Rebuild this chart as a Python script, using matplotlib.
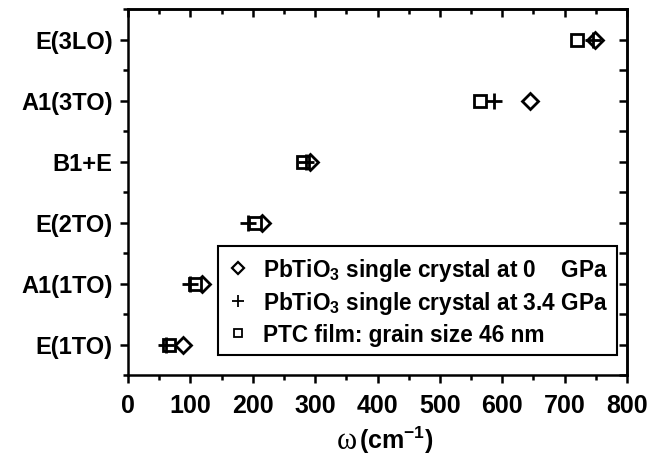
import matplotlib
matplotlib.use("Agg")
import matplotlib.pyplot as plt
from matplotlib.lines import Line2D
from matplotlib.ticker import MultipleLocator, FixedLocator

plt.rcParams['mathtext.fontset'] = 'custom'
plt.rcParams['mathtext.rm'] = 'Liberation Sans:bold'
plt.rcParams['mathtext.it'] = 'Liberation Sans:bold'
plt.rcParams['mathtext.bf'] = 'Liberation Sans:bold'
plt.rcParams['mathtext.sf'] = 'Liberation Sans:bold'

# Raman mode assignments (bottom to top)
modes = ["E(1TO)", "A1(1TO)", "E(2TO)", "B1+E", "A1(3TO)", "E(3LO)"]

# Mode frequencies in cm^-1
crystal_0gpa = [88, 118, 215, 291, 645, 748]
crystal_3p4gpa = [61, 100, 193, 286, 587, 746]
film_46nm = [66, 107, 203, 281, 564, 720]

labels = ["PbTiO$_3$ single crystal at 0    GPa",
          "PbTiO$_3$ single crystal at 3.4 GPa",
          "PTC film: grain size 46 nm"]

x_ticks = [0, 100, 200, 300, 400, 500, 600, 700, 800]

fig = plt.figure(figsize=(6.62, 4.77), dpi=100)
ax = fig.add_axes([128 / 662, 1 - 376 / 477, 499 / 662, 366 / 477])

ypos = list(range(1, len(modes) + 1))
mew = 2.0
ax.plot(crystal_0gpa, ypos, linestyle='none', marker='D', markersize=8.5,
        markerfacecolor='white', markeredgecolor='black', markeredgewidth=mew, zorder=3)
ax.plot(film_46nm, ypos, linestyle='none', marker='s', markersize=8,
        markerfacecolor='white', markeredgecolor='black', markeredgewidth=mew, zorder=4)
ax.plot(crystal_3p4gpa, ypos, linestyle='none', marker='+', markersize=12,
        markeredgecolor='black', markeredgewidth=mew, zorder=5)

ax.set_xlim(0, 800)
ax.set_ylim(0.5, len(modes) + 0.5)

ax.xaxis.set_major_locator(FixedLocator(x_ticks))
ax.xaxis.set_minor_locator(MultipleLocator(50))
ax.yaxis.set_major_locator(FixedLocator(ypos))
ax.yaxis.set_minor_locator(FixedLocator([p + 0.5 for p in range(0, len(modes) + 1)]))
ax.set_yticklabels(modes)
ax.set_xticklabels([str(v) for v in x_ticks])

for lab in ax.get_yticklabels():
    lab.set_fontfamily('Liberation Sans')
    lab.set_fontweight('bold')
    lab.set_fontsize(17)
for lab in ax.get_xticklabels():
    lab.set_fontfamily('Liberation Sans')
    lab.set_fontweight('bold')
    lab.set_fontsize(18)

lw = 1.8
for sp in ax.spines.values():
    sp.set_linewidth(lw)

ax.tick_params(axis='both', which='major', direction='out', length=6, width=lw,
               top=False, right=False)
ax.tick_params(axis='both', which='minor', direction='out', length=3.5, width=lw,
               top=False, right=False)
ax.tick_params(axis='x', which='major', pad=7)
ax.tick_params(axis='y', which='major', pad=5)

# inward ticks on the top and right frame
top = ax.secondary_xaxis('top')
top.xaxis.set_major_locator(FixedLocator(x_ticks))
top.xaxis.set_minor_locator(MultipleLocator(50))
top.tick_params(which='major', direction='in', length=6, width=lw, labeltop=False)
top.tick_params(which='minor', direction='in', length=3.5, width=lw)
top.spines['top'].set_linewidth(lw)

right = ax.secondary_yaxis('right')
right.yaxis.set_major_locator(FixedLocator(ypos))
right.yaxis.set_minor_locator(FixedLocator([p + 0.5 for p in range(0, len(modes) + 1)]))
right.tick_params(which='major', direction='in', length=6, width=lw, labelright=False)
right.tick_params(which='minor', direction='in', length=6, width=lw)
right.spines['right'].set_linewidth(lw)

handles = [
    Line2D([], [], linestyle='none', marker='D', markersize=6, markerfacecolor='white',
           markeredgecolor='black', markeredgewidth=1.6),
    Line2D([], [], linestyle='none', marker='+', markersize=9, markeredgecolor='black',
           markeredgewidth=1.3),
    Line2D([], [], linestyle='none', marker='s', markersize=6, markerfacecolor='white',
           markeredgecolor='black', markeredgewidth=1.3),
]
leg = ax.legend(handles, labels, loc='upper left', bbox_to_anchor=(0.18, 0.352),
                borderaxespad=0, frameon=True, fancybox=False, handlelength=0.9,
                handletextpad=0.65, borderpad=0.43, labelspacing=0.28,
                prop={'family': 'Liberation Sans', 'weight': 'bold', 'size': 16.3})
leg.get_frame().set_edgecolor('black')
leg.get_frame().set_linewidth(1.5)
leg.get_frame().set_alpha(1)

# axis title: omega in serif, units in bold sans
xa = 0.539
yb = 1 - 449 / 477
fig.text(xa, yb, "ω", ha='right', va='baseline', family='Liberation Serif', fontsize=22)
fig.text(xa + 0.003, yb, "(cm$^{-1}$)", ha='left', va='baseline',
         family='Liberation Sans', fontweight='bold', fontsize=18)

fig.savefig("out.png", dpi=100)
